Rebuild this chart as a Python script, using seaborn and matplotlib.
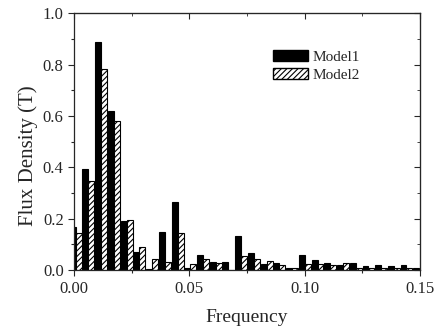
import matplotlib
matplotlib.use('Agg')
import matplotlib.pyplot as plt
import seaborn as sns
import pandas as pd
import numpy as np
from matplotlib.patches import Patch
from matplotlib.ticker import MultipleLocator, FormatStrFormatter

# harmonic frequencies and the two model amplitudes
frequency = [0.0007, 0.0062, 0.0117, 0.0173, 0.0228, 0.0283, 0.0338, 0.0393,
             0.0449, 0.0504, 0.0559, 0.0614, 0.0669, 0.0725, 0.0780, 0.0835,
             0.0890, 0.0945, 0.1001, 0.1056, 0.1111, 0.1166, 0.1221, 0.1277,
             0.1332, 0.1387, 0.1442, 0.1497]
model1 = [0.168, 0.392, 0.886, 0.618, 0.190, 0.070, 0.004, 0.149, 0.266, 0.008,
          0.059, 0.030, 0.031, 0.132, 0.066, 0.023, 0.027, 0.010, 0.058, 0.039,
          0.027, 0.021, 0.027, 0.016, 0.019, 0.017, 0.019, 0.010]
model2 = [0.144, 0.348, 0.782, 0.582, 0.194, 0.089, 0.042, 0.032, 0.143, 0.025,
          0.042, 0.029, 0.002, 0.055, 0.045, 0.035, 0.018, 0.007, 0.022, 0.022,
          0.019, 0.027, 0.010, 0.008, 0.009, 0.010, 0.010, 0.005]
models = ['Model1', 'Model2']

df = pd.DataFrame({
    'freq': frequency * 2,
    'value': model1 + model2,
    'model': [models[0]] * len(model1) + [models[1]] * len(model2),
})

sns.set_style('ticks')
plt.rcParams['font.family'] = ['Liberation Serif', 'DejaVu Serif']
plt.rcParams['hatch.linewidth'] = 0.8

fig = plt.figure(figsize=(4.36, 3.29), dpi=100)
ax = fig.add_axes([0.170, 0.179, 0.793, 0.781])

sns.barplot(data=df, x='freq', y='value', hue='model', native_scale=True,
            palette={'Model1': 'black', 'Model2': 'white'}, edgecolor='black',
            linewidth=0.8, width=0.94, dodge=True, legend=False, ax=ax)

for bar in ax.containers[1]:
    bar.set_hatch('//////')

ax.set_xlim(0, 0.15)
ax.set_ylim(0, 1.0)
ax.xaxis.set_major_locator(MultipleLocator(0.05))
ax.xaxis.set_minor_locator(MultipleLocator(0.025))
ax.yaxis.set_major_locator(MultipleLocator(0.2))
ax.yaxis.set_minor_locator(MultipleLocator(0.1))
ax.xaxis.set_major_formatter(FormatStrFormatter('%.2f'))
ax.yaxis.set_major_formatter(FormatStrFormatter('%.1f'))
ax.tick_params(which='major', direction='out', length=4, width=0.8, labelsize=12)
ax.tick_params(which='minor', direction='out', length=2, width=0.8)

# mirrored ticks on top and right, pointing inward
top = ax.secondary_xaxis('top')
top.xaxis.set_major_locator(MultipleLocator(0.05))
top.xaxis.set_minor_locator(MultipleLocator(0.025))
top.tick_params(which='major', direction='in', length=4, labeltop=False)
top.tick_params(which='minor', direction='in', length=2)
right = ax.secondary_yaxis('right')
right.yaxis.set_major_locator(MultipleLocator(0.2))
right.yaxis.set_minor_locator(MultipleLocator(0.1))
right.tick_params(which='major', direction='in', length=4, labelright=False)
right.tick_params(which='minor', direction='in', length=2)

for s in ax.spines.values():
    s.set_linewidth(0.9)

ax.set_xlabel('Frequency', fontsize=14, labelpad=9)
ax.set_ylabel('Flux Density (T)', fontsize=15)
ax.yaxis.set_label_coords(-0.105, 0.444)

handles = [Patch(facecolor='black', edgecolor='black', label='Model1'),
           Patch(facecolor='white', edgecolor='black', hatch='//////', label='Model2')]
ax.legend(handles=handles, loc='upper left', bbox_to_anchor=(0.545, 0.90),
          frameon=False, fontsize=11, handlelength=2.3, handleheight=0.8,
          handletextpad=0.25, labelspacing=0.25, borderpad=0.2)

fig.savefig('out.png', dpi=100)
plt.close(fig)
